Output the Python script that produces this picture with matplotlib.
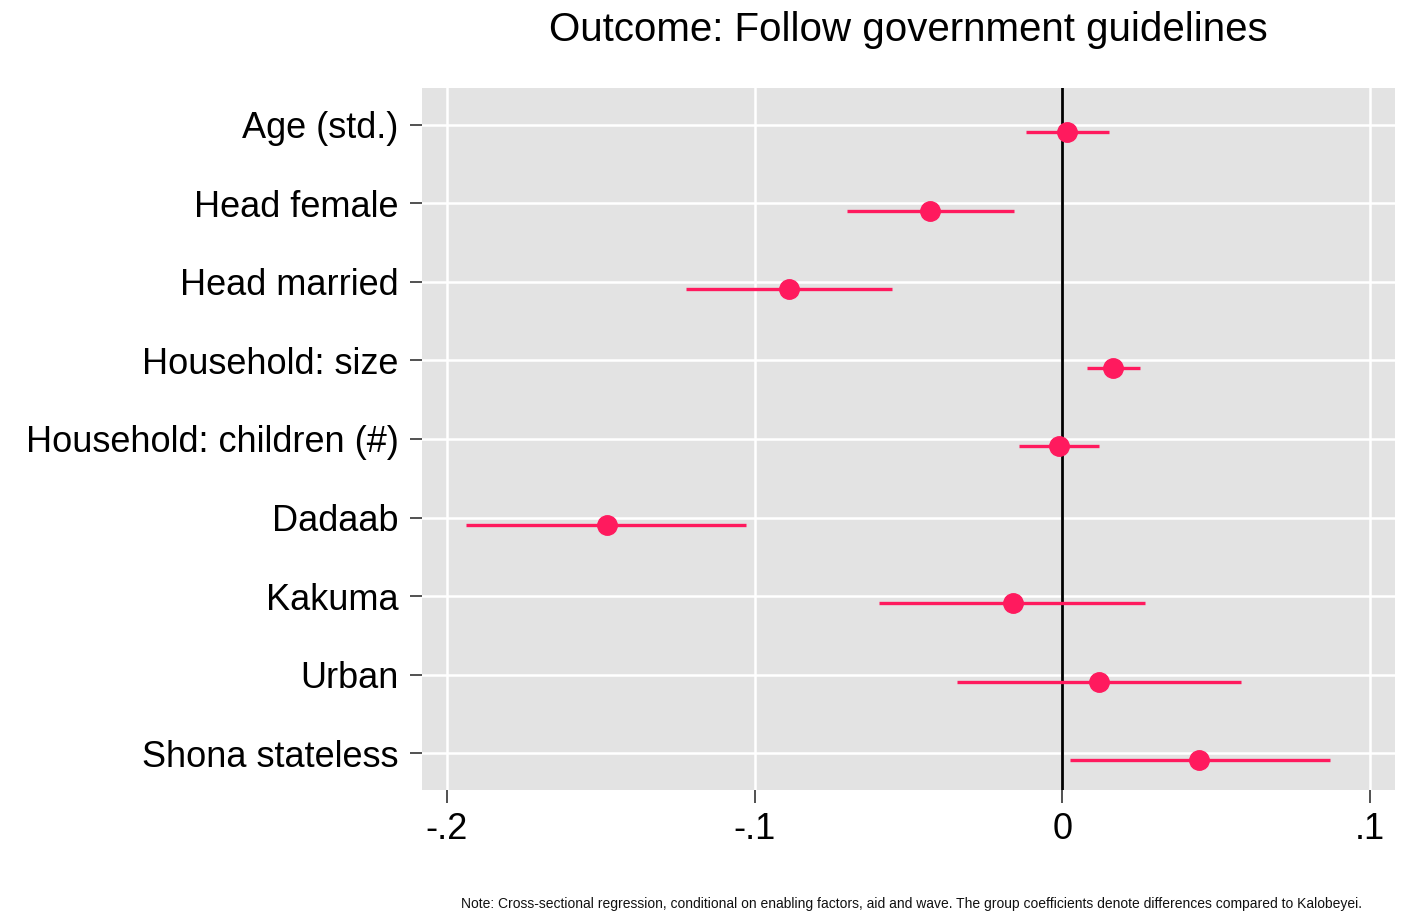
import matplotlib
matplotlib.use("Agg")
import matplotlib.pyplot as plt
import numpy as np

plt.rcParams['font.family'] = ['Liberation Sans', 'DejaVu Sans']

labels = ["Age (std.)", "Head female", "Head married", "Household: size",
          "Household: children (#)", "Dadaab", "Kakuma", "Urban", "Shona stateless"]
coef = [0.0016, -0.0429, -0.0890, 0.0166, -0.0010, -0.1480, -0.0162, 0.0120, 0.0445]
ci_low = [-0.0117, -0.0701, -0.1224, 0.0081, -0.0140, -0.1938, -0.0597, -0.0341, 0.0026]
ci_high = [0.0153, -0.0156, -0.0555, 0.0253, 0.0120, -0.1029, 0.0269, 0.0581, 0.0870]
xticks = [-0.2, -0.1, 0.0, 0.1]
xtick_labels = ["-.2", "-.1", "0", ".1"]

color = "#ff1a5e"

fig = plt.figure(figsize=(14.03, 9.14), dpi=100)
ax = fig.add_axes([0.3008, 0.1357, 0.6935, 0.768])
ax.set_facecolor("#e3e3e3")
for s in ax.spines.values():
    s.set_visible(False)

pos = np.arange(len(labels))
# coefficient markers sit slightly below their category line
mark_pos = pos + 0.09

ax.axvline(0, color="black", lw=2.0, zorder=2)
ax.hlines(mark_pos, ci_low, ci_high, color=color, lw=2.4, zorder=3)
ax.plot(coef, mark_pos, "o", color=color, ms=14, zorder=4)

ax.set_xlim(-0.2081, 0.1081)
ax.set_ylim(len(labels) - 1 + 0.47, -0.47)
ax.set_yticks(pos)
ax.set_yticklabels(labels, fontsize=26)
ax.set_xticks(xticks)
ax.set_xticklabels(xtick_labels, fontsize=26)
ax.tick_params(axis="y", length=9, width=1.2, color="#333333", pad=8)
ax.tick_params(axis="x", length=9, width=1.2, color="#333333", pad=7)
ax.grid(True, color="white", lw=1.8, zorder=0)
ax.set_axisbelow(True)

ax.set_title("Outcome: Follow government guidelines", fontsize=29, pad=34)

fig.text(461 / 1403, 1 - 904 / 914,
         "Note: Cross-sectional regression, conditional on enabling factors, aid and wave. "
         "The group coefficients denote differences compared to Kalobeyei.",
         fontsize=10.0, ha="left", va="center", color="#111111")

fig.savefig("out.png", dpi=100, facecolor="white")
